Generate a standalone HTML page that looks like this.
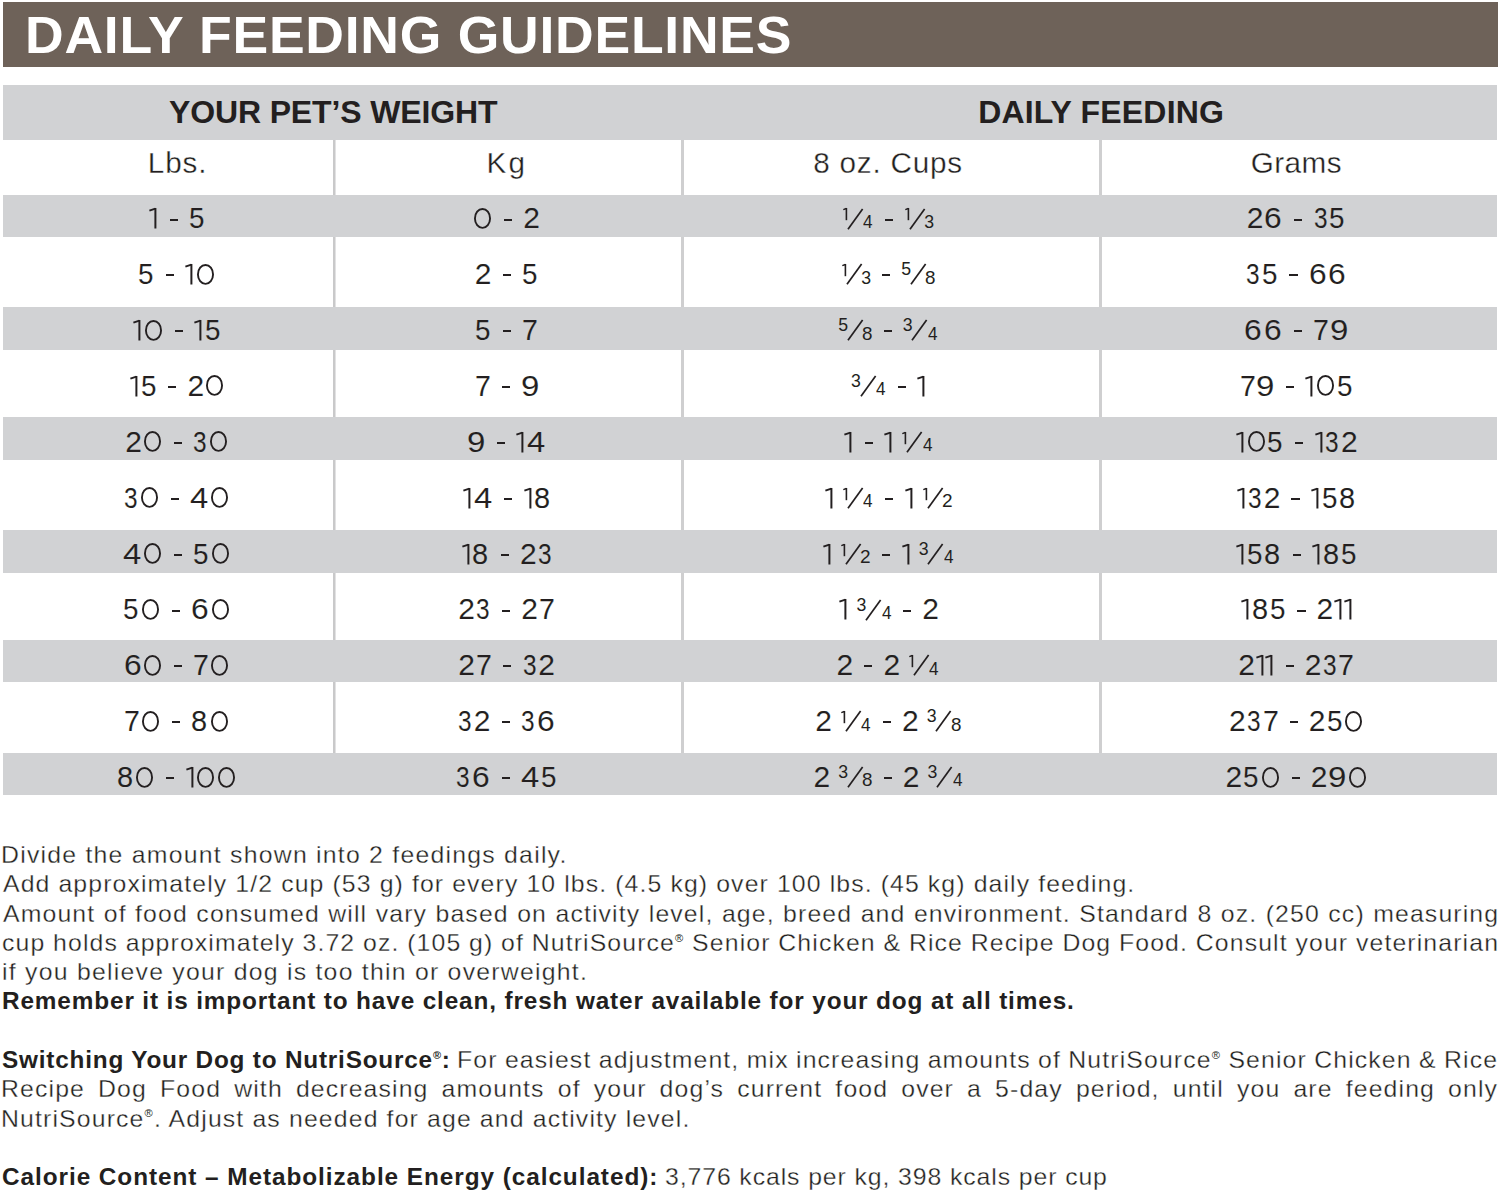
<!DOCTYPE html>
<html><head><meta charset="utf-8"><style>
html,body{margin:0;padding:0;background:#fff}
body{width:1500px;height:1191px;position:relative;overflow:hidden;font-family:"Liberation Sans", sans-serif;color:#231f20}
.r{position:absolute}
.t{position:absolute;white-space:pre;transform-origin:0 0}
.sv{position:absolute;overflow:visible}
.reg{font-size:0.45em;position:relative;top:-0.9em;line-height:0;-webkit-text-stroke:0}
</style></head><body>
<div class='r' style='left:3px;top:2px;width:1495.00px;height:65.00px;background:#6e6259'></div><div class='r' style='left:3px;top:85px;width:1494.00px;height:54.50px;background:#d1d2d4'></div><div class='r' style='left:333px;top:139.5px;width:2.00px;height:655.50px;background:#c9c9ca'></div><div class='r' style='left:335px;top:139.5px;width:1.00px;height:655.50px;background:#e2e2e3'></div><div class='r' style='left:681px;top:139.5px;width:3.00px;height:655.50px;background:#cfcfd0'></div><div class='r' style='left:1099px;top:139.5px;width:3.00px;height:655.50px;background:#cfcfd0'></div><div class='r' style='left:3px;top:195px;width:1494.00px;height:42.00px;background:#d1d2d4'></div><div class='r' style='left:3px;top:307px;width:1494.00px;height:43.00px;background:#d1d2d4'></div><div class='r' style='left:3px;top:417px;width:1494.00px;height:43.00px;background:#d1d2d4'></div><div class='r' style='left:3px;top:530px;width:1494.00px;height:43.00px;background:#d1d2d4'></div><div class='r' style='left:3px;top:640px;width:1494.00px;height:42.00px;background:#d1d2d4'></div><div class='r' style='left:3px;top:753px;width:1494.00px;height:42.00px;background:#d1d2d4'></div>
<div class='t' style='top:8.88px;font-size:52.5px;line-height:52.5px;font-weight:700;color:#ffffff;transform:scaleX(1.02);left:24.94px;letter-spacing:0.712px'>DAILY FEEDING GUIDELINES</div><div class='t' style='top:95.60px;font-size:32px;line-height:32px;font-weight:700;color:#231f20;transform:scaleX(1.0);left:169.00px;letter-spacing:-0.137px'>YOUR PET’S WEIGHT</div><div class='t' style='top:95.50px;font-size:32px;line-height:32px;font-weight:700;color:#231f20;transform:scaleX(1.0);left:978.20px;letter-spacing:0.175px'>DAILY FEEDING</div><div class='t' style='top:147.75px;font-size:29.7px;line-height:29.7px;font-weight:400;color:#231f20;transform:scaleX(1.0);-webkit-text-stroke:0.35px #fff;left:147.80px;letter-spacing:0.867px'>Lbs.</div><div class='t' style='top:147.75px;font-size:29.7px;line-height:29.7px;font-weight:400;color:#231f20;transform:scaleX(1.0);-webkit-text-stroke:0.35px #fff;left:486.60px;letter-spacing:2.000px'>Kg</div><div class='t' style='top:147.75px;font-size:29.7px;line-height:29.7px;font-weight:400;color:#231f20;transform:scaleX(1.0);-webkit-text-stroke:0.35px #fff;left:813.20px;letter-spacing:0.789px'>8 oz. Cups</div><div class='t' style='top:147.75px;font-size:29.7px;line-height:29.7px;font-weight:400;color:#231f20;transform:scaleX(1.0);-webkit-text-stroke:0.35px #fff;left:1250.70px;letter-spacing:0.450px'>Grams</div><div class='t' style='top:844.08px;font-size:23.2px;line-height:23.2px;font-weight:400;color:#231f20;transform:scaleX(1.07);-webkit-text-stroke:0.3px #fff;left:0.86px;letter-spacing:1.152px'>Divide the amount shown into 2 feedings daily.</div><div class='t' style='top:873.36px;font-size:23.2px;line-height:23.2px;font-weight:400;color:#231f20;transform:scaleX(1.07);-webkit-text-stroke:0.3px #fff;left:3.00px;letter-spacing:1.035px'>Add approximately 1/2 cup (53 g) for every 10 lbs. (4.5 kg) over 100 lbs. (45 kg) daily feeding.</div><div class='t' style='top:902.64px;font-size:23.2px;line-height:23.2px;font-weight:400;color:#231f20;transform:scaleX(1.07);-webkit-text-stroke:0.3px #fff;left:3.00px;letter-spacing:1.050px;word-spacing:0.415px'>Amount of food consumed will vary based on activity level, age, breed and environment. Standard 8 oz. (250 cc) measuring</div><div class='t' style='top:931.92px;font-size:23.2px;line-height:23.2px;font-weight:400;color:#231f20;transform:scaleX(1.07);-webkit-text-stroke:0.3px #fff;left:1.93px;letter-spacing:1.050px;word-spacing:-0.286px'>cup holds approximately 3.72 oz. (105 g) of NutriSource<span class="reg">®</span> Senior Chicken &amp; Rice Recipe Dog Food. Consult your veterinarian</div><div class='t' style='top:961.20px;font-size:23.2px;line-height:23.2px;font-weight:400;color:#231f20;transform:scaleX(1.07);-webkit-text-stroke:0.3px #fff;left:1.93px;letter-spacing:1.160px'>if you believe your dog is too thin or overweight.</div><div class='t' style='top:990.48px;font-size:23.2px;line-height:23.2px;font-weight:700;color:#231f20;transform:scaleX(1.05);left:1.95px;letter-spacing:0.817px'>Remember it is important to have clean, fresh water available for your dog at all times.</div><div class='t' style='top:1049.04px;font-size:23.2px;line-height:23.2px;font-weight:700;color:#231f20;transform:scaleX(1.05);left:1.95px;letter-spacing:0.751px'>Switching Your Dog to NutriSource<span class="reg">®</span>:</div><div class='t' style='top:1049.04px;font-size:23.2px;line-height:23.2px;font-weight:400;color:#231f20;transform:scaleX(1.07);-webkit-text-stroke:0.3px #fff;left:457.36px;letter-spacing:1.050px;word-spacing:-0.630px'>For easiest adjustment, mix increasing amounts of NutriSource<span class="reg">®</span> Senior Chicken &amp; Rice</div><div class='t' style='top:1078.32px;font-size:23.2px;line-height:23.2px;font-weight:400;color:#231f20;transform:scaleX(1.07);-webkit-text-stroke:0.3px #fff;left:0.86px;letter-spacing:1.050px;word-spacing:4.747px'>Recipe Dog Food with decreasing amounts of your dog’s current food over a 5-day period, until you are feeding only</div><div class='t' style='top:1107.60px;font-size:23.2px;line-height:23.2px;font-weight:400;color:#231f20;transform:scaleX(1.07);-webkit-text-stroke:0.3px #fff;left:0.86px;letter-spacing:1.065px'>NutriSource<span class="reg">®</span>. Adjust as needed for age and activity level.</div><div class='t' style='top:1166.16px;font-size:23.2px;line-height:23.2px;font-weight:700;color:#231f20;transform:scaleX(1.05);left:1.95px;letter-spacing:0.895px'>Calorie Content – Metabolizable Energy (calculated):</div><div class='t' style='top:1166.16px;font-size:23.2px;line-height:23.2px;font-weight:400;color:#231f20;transform:scaleX(1.07);-webkit-text-stroke:0.3px #fff;left:664.83px;letter-spacing:0.839px'>3,776 kcals per kg, 398 kcals per cup</div><svg class='sv' style='left:148.35px;top:207.40px' width='9.4' height='22.5'><path d='M7.40 1V21.50' stroke='#231f20' stroke-width='2.0' fill='none'/><path d='M7.40 1.60L1.38 3.67' stroke='#231f20' stroke-width='1.9' fill='none'/></svg><div class='r' style='left:169.55px;top:218.50px;width:8.2px;height:2px;background:#231f20'></div><div class='t' style='top:203.40px;font-size:30px;line-height:30px;left:188.82px;transform:scaleX(0.9267);-webkit-text-stroke:0.1px #d1d2d4'>5</div><svg class='sv' style='left:473.30px;top:206.90px' width='19.0' height='22.8'><ellipse cx='9.50' cy='11.40' rx='7.55' ry='9.45' stroke='#231f20' stroke-width='1.9' fill='none'/></svg><div class='r' style='left:504.10px;top:218.50px;width:8.2px;height:2px;background:#231f20'></div><div class='t' style='top:203.40px;font-size:30px;line-height:30px;left:523.30px;transform:scaleX(1.0000);-webkit-text-stroke:0.1px #d1d2d4'>2</div><svg class='sv' style='left:842.25px;top:207.40px' width='6.2' height='14.2'><path d='M4.40 1V13.20' stroke='#231f20' stroke-width='1.6' fill='none'/><path d='M4.40 1.48L1.30 2.59' stroke='#231f20' stroke-width='1.5' fill='none'/></svg><svg class='sv' style='left:846.95px;top:207.60px' width='16.6' height='22.3'><path d='M1 21.3L15.6 1' stroke='#231f20' stroke-width='1.7' fill='none'/></svg><div class='t' style='top:213.86px;font-size:17.7px;line-height:17.7px;left:863.45px;transform:scaleX(0.9700)'>4</div><div class='r' style='left:884.95px;top:218.50px;width:8.2px;height:2px;background:#231f20'></div><svg class='sv' style='left:904.15px;top:207.40px' width='6.2' height='14.2'><path d='M4.40 1V13.20' stroke='#231f20' stroke-width='1.6' fill='none'/><path d='M4.40 1.48L1.30 2.59' stroke='#231f20' stroke-width='1.5' fill='none'/></svg><svg class='sv' style='left:908.85px;top:207.60px' width='16.6' height='22.3'><path d='M1 21.3L15.6 1' stroke='#231f20' stroke-width='1.7' fill='none'/></svg><div class='t' style='top:213.86px;font-size:17.7px;line-height:17.7px;left:924.35px;transform:scaleX(1.0000)'>3</div><div class='t' style='top:203.40px;font-size:30px;line-height:30px;left:1246.80px;transform:scaleX(1.0000);-webkit-text-stroke:0.1px #d1d2d4'>2</div><div class='t' style='top:203.40px;font-size:30px;line-height:30px;left:1264.44px;transform:scaleX(1.0600);-webkit-text-stroke:0.1px #d1d2d4'>6</div><div class='r' style='left:1294.20px;top:218.50px;width:8.2px;height:2px;background:#231f20'></div><div class='t' style='top:203.40px;font-size:30px;line-height:30px;left:1313.59px;transform:scaleX(0.8133);-webkit-text-stroke:0.1px #d1d2d4'>3</div><div class='t' style='top:203.40px;font-size:30px;line-height:30px;left:1329.37px;transform:scaleX(0.9267);-webkit-text-stroke:0.1px #d1d2d4'>5</div><div class='t' style='top:259.26px;font-size:30px;line-height:30px;left:138.07px;transform:scaleX(0.9267);-webkit-text-stroke:0.1px #ffffff'>5</div><div class='r' style='left:165.70px;top:274.36px;width:8.2px;height:2px;background:#231f20'></div><svg class='sv' style='left:184.40px;top:263.26px' width='9.4' height='22.5'><path d='M7.40 1V21.50' stroke='#231f20' stroke-width='2.0' fill='none'/><path d='M7.40 1.60L1.38 3.67' stroke='#231f20' stroke-width='1.9' fill='none'/></svg><svg class='sv' style='left:196.00px;top:262.76px' width='19.0' height='22.8'><ellipse cx='9.50' cy='11.40' rx='7.55' ry='9.45' stroke='#231f20' stroke-width='1.9' fill='none'/></svg><div class='t' style='top:259.26px;font-size:30px;line-height:30px;left:474.85px;transform:scaleX(1.0000);-webkit-text-stroke:0.1px #ffffff'>2</div><div class='r' style='left:502.65px;top:274.36px;width:8.2px;height:2px;background:#231f20'></div><div class='t' style='top:259.26px;font-size:30px;line-height:30px;left:521.92px;transform:scaleX(0.9267);-webkit-text-stroke:0.1px #ffffff'>5</div><svg class='sv' style='left:840.95px;top:263.26px' width='6.2' height='14.2'><path d='M4.40 1V13.20' stroke='#231f20' stroke-width='1.6' fill='none'/><path d='M4.40 1.48L1.30 2.59' stroke='#231f20' stroke-width='1.5' fill='none'/></svg><svg class='sv' style='left:845.65px;top:263.46px' width='16.6' height='22.3'><path d='M1 21.3L15.6 1' stroke='#231f20' stroke-width='1.7' fill='none'/></svg><div class='t' style='top:269.71px;font-size:17.7px;line-height:17.7px;left:861.15px;transform:scaleX(1.0000)'>3</div><div class='r' style='left:881.95px;top:274.36px;width:8.2px;height:2px;background:#231f20'></div><div class='t' style='top:261.41px;font-size:17.7px;line-height:17.7px;left:901.15px;transform:scaleX(1.0000)'>5</div><svg class='sv' style='left:909.65px;top:263.46px' width='16.6' height='22.3'><path d='M1 21.3L15.6 1' stroke='#231f20' stroke-width='1.7' fill='none'/></svg><div class='t' style='top:269.71px;font-size:17.7px;line-height:17.7px;left:925.09px;transform:scaleX(1.0625)'>8</div><div class='t' style='top:259.26px;font-size:30px;line-height:30px;left:1246.04px;transform:scaleX(0.8133);-webkit-text-stroke:0.1px #ffffff'>3</div><div class='t' style='top:259.26px;font-size:30px;line-height:30px;left:1261.82px;transform:scaleX(0.9267);-webkit-text-stroke:0.1px #ffffff'>5</div><div class='r' style='left:1289.45px;top:274.36px;width:8.2px;height:2px;background:#231f20'></div><div class='t' style='top:259.26px;font-size:30px;line-height:30px;left:1308.59px;transform:scaleX(1.0600);-webkit-text-stroke:0.1px #ffffff'>6</div><div class='t' style='top:259.26px;font-size:30px;line-height:30px;left:1328.19px;transform:scaleX(1.0600);-webkit-text-stroke:0.1px #ffffff'>6</div><svg class='sv' style='left:132.20px;top:319.12px' width='9.4' height='22.5'><path d='M7.40 1V21.50' stroke='#231f20' stroke-width='2.0' fill='none'/><path d='M7.40 1.60L1.38 3.67' stroke='#231f20' stroke-width='1.9' fill='none'/></svg><svg class='sv' style='left:143.80px;top:318.62px' width='19.0' height='22.8'><ellipse cx='9.50' cy='11.40' rx='7.55' ry='9.45' stroke='#231f20' stroke-width='1.9' fill='none'/></svg><div class='r' style='left:174.60px;top:330.22px;width:8.2px;height:2px;background:#231f20'></div><svg class='sv' style='left:193.30px;top:319.12px' width='9.4' height='22.5'><path d='M7.40 1V21.50' stroke='#231f20' stroke-width='2.0' fill='none'/><path d='M7.40 1.60L1.38 3.67' stroke='#231f20' stroke-width='1.9' fill='none'/></svg><div class='t' style='top:315.12px;font-size:30px;line-height:30px;left:204.97px;transform:scaleX(0.9267);-webkit-text-stroke:0.1px #d1d2d4'>5</div><div class='t' style='top:315.12px;font-size:30px;line-height:30px;left:475.27px;transform:scaleX(0.9267);-webkit-text-stroke:0.1px #d1d2d4'>5</div><div class='r' style='left:502.90px;top:330.22px;width:8.2px;height:2px;background:#231f20'></div><div class='t' style='top:315.12px;font-size:30px;line-height:30px;left:522.15px;transform:scaleX(0.9500);-webkit-text-stroke:0.1px #d1d2d4'>7</div><div class='t' style='top:317.27px;font-size:17.7px;line-height:17.7px;left:838.20px;transform:scaleX(1.0000)'>5</div><svg class='sv' style='left:846.70px;top:319.32px' width='16.6' height='22.3'><path d='M1 21.3L15.6 1' stroke='#231f20' stroke-width='1.7' fill='none'/></svg><div class='t' style='top:325.57px;font-size:17.7px;line-height:17.7px;left:862.14px;transform:scaleX(1.0625)'>8</div><div class='r' style='left:883.50px;top:330.22px;width:8.2px;height:2px;background:#231f20'></div><div class='t' style='top:317.27px;font-size:17.7px;line-height:17.7px;left:902.70px;transform:scaleX(1.0000)'>3</div><svg class='sv' style='left:911.20px;top:319.32px' width='16.6' height='22.3'><path d='M1 21.3L15.6 1' stroke='#231f20' stroke-width='1.7' fill='none'/></svg><div class='t' style='top:325.57px;font-size:17.7px;line-height:17.7px;left:927.70px;transform:scaleX(0.9700)'>4</div><div class='t' style='top:315.12px;font-size:30px;line-height:30px;left:1244.49px;transform:scaleX(1.0600);-webkit-text-stroke:0.1px #d1d2d4'>6</div><div class='t' style='top:315.12px;font-size:30px;line-height:30px;left:1264.09px;transform:scaleX(1.0600);-webkit-text-stroke:0.1px #d1d2d4'>6</div><div class='r' style='left:1293.85px;top:330.22px;width:8.2px;height:2px;background:#231f20'></div><div class='t' style='top:315.12px;font-size:30px;line-height:30px;left:1313.10px;transform:scaleX(0.9500);-webkit-text-stroke:0.1px #d1d2d4'>7</div><div class='t' style='top:315.12px;font-size:30px;line-height:30px;left:1329.95px;transform:scaleX(1.1000);-webkit-text-stroke:0.1px #d1d2d4'>9</div><svg class='sv' style='left:128.90px;top:374.98px' width='9.4' height='22.5'><path d='M7.40 1V21.50' stroke='#231f20' stroke-width='2.0' fill='none'/><path d='M7.40 1.60L1.38 3.67' stroke='#231f20' stroke-width='1.9' fill='none'/></svg><div class='t' style='top:370.98px;font-size:30px;line-height:30px;left:140.57px;transform:scaleX(0.9267);-webkit-text-stroke:0.1px #ffffff'>5</div><div class='r' style='left:168.20px;top:386.08px;width:8.2px;height:2px;background:#231f20'></div><div class='t' style='top:370.98px;font-size:30px;line-height:30px;left:187.40px;transform:scaleX(1.0000);-webkit-text-stroke:0.1px #ffffff'>2</div><svg class='sv' style='left:205.10px;top:374.48px' width='19.0' height='22.8'><ellipse cx='9.50' cy='11.40' rx='7.55' ry='9.45' stroke='#231f20' stroke-width='1.9' fill='none'/></svg><div class='t' style='top:370.98px;font-size:30px;line-height:30px;left:474.50px;transform:scaleX(0.9500);-webkit-text-stroke:0.1px #ffffff'>7</div><div class='r' style='left:501.55px;top:386.08px;width:8.2px;height:2px;background:#231f20'></div><div class='t' style='top:370.98px;font-size:30px;line-height:30px;left:520.65px;transform:scaleX(1.1000);-webkit-text-stroke:0.1px #ffffff'>9</div><div class='t' style='top:373.13px;font-size:17.7px;line-height:17.7px;left:851.00px;transform:scaleX(1.0000)'>3</div><svg class='sv' style='left:859.50px;top:375.18px' width='16.6' height='22.3'><path d='M1 21.3L15.6 1' stroke='#231f20' stroke-width='1.7' fill='none'/></svg><div class='t' style='top:381.44px;font-size:17.7px;line-height:17.7px;left:876.00px;transform:scaleX(0.9700)'>4</div><div class='r' style='left:897.50px;top:386.08px;width:8.2px;height:2px;background:#231f20'></div><svg class='sv' style='left:916.20px;top:374.98px' width='9.4' height='22.5'><path d='M7.40 1V21.50' stroke='#231f20' stroke-width='2.0' fill='none'/><path d='M7.40 1.60L1.38 3.67' stroke='#231f20' stroke-width='1.9' fill='none'/></svg><div class='t' style='top:370.98px;font-size:30px;line-height:30px;left:1239.50px;transform:scaleX(0.9500);-webkit-text-stroke:0.1px #ffffff'>7</div><div class='t' style='top:370.98px;font-size:30px;line-height:30px;left:1256.35px;transform:scaleX(1.1000);-webkit-text-stroke:0.1px #ffffff'>9</div><div class='r' style='left:1285.65px;top:386.08px;width:8.2px;height:2px;background:#231f20'></div><svg class='sv' style='left:1304.35px;top:374.98px' width='9.4' height='22.5'><path d='M7.40 1V21.50' stroke='#231f20' stroke-width='2.0' fill='none'/><path d='M7.40 1.60L1.38 3.67' stroke='#231f20' stroke-width='1.9' fill='none'/></svg><svg class='sv' style='left:1315.95px;top:374.48px' width='19.0' height='22.8'><ellipse cx='9.50' cy='11.40' rx='7.55' ry='9.45' stroke='#231f20' stroke-width='1.9' fill='none'/></svg><div class='t' style='top:370.98px;font-size:30px;line-height:30px;left:1336.72px;transform:scaleX(0.9267);-webkit-text-stroke:0.1px #ffffff'>5</div><div class='t' style='top:426.84px;font-size:30px;line-height:30px;left:125.20px;transform:scaleX(1.0000);-webkit-text-stroke:0.1px #d1d2d4'>2</div><svg class='sv' style='left:142.90px;top:430.34px' width='19.0' height='22.8'><ellipse cx='9.50' cy='11.40' rx='7.55' ry='9.45' stroke='#231f20' stroke-width='1.9' fill='none'/></svg><div class='r' style='left:173.70px;top:441.94px;width:8.2px;height:2px;background:#231f20'></div><div class='t' style='top:426.84px;font-size:30px;line-height:30px;left:193.09px;transform:scaleX(0.8133);-webkit-text-stroke:0.1px #d1d2d4'>3</div><svg class='sv' style='left:208.80px;top:430.34px' width='19.0' height='22.8'><ellipse cx='9.50' cy='11.40' rx='7.55' ry='9.45' stroke='#231f20' stroke-width='1.9' fill='none'/></svg><div class='t' style='top:426.84px;font-size:30px;line-height:30px;left:467.25px;transform:scaleX(1.1000);-webkit-text-stroke:0.1px #d1d2d4'>9</div><div class='r' style='left:496.55px;top:441.94px;width:8.2px;height:2px;background:#231f20'></div><svg class='sv' style='left:515.25px;top:430.84px' width='9.4' height='22.5'><path d='M7.40 1V21.50' stroke='#231f20' stroke-width='2.0' fill='none'/><path d='M7.40 1.60L1.38 3.67' stroke='#231f20' stroke-width='1.9' fill='none'/></svg><div class='t' style='top:426.84px;font-size:30px;line-height:30px;left:526.76px;transform:scaleX(1.0933);-webkit-text-stroke:0.1px #d1d2d4'>4</div><svg class='sv' style='left:843.30px;top:430.84px' width='9.4' height='22.5'><path d='M7.40 1V21.50' stroke='#231f20' stroke-width='2.0' fill='none'/><path d='M7.40 1.60L1.38 3.67' stroke='#231f20' stroke-width='1.9' fill='none'/></svg><div class='r' style='left:864.50px;top:441.94px;width:8.2px;height:2px;background:#231f20'></div><svg class='sv' style='left:883.20px;top:430.84px' width='9.4' height='22.5'><path d='M7.40 1V21.50' stroke='#231f20' stroke-width='2.0' fill='none'/><path d='M7.40 1.60L1.38 3.67' stroke='#231f20' stroke-width='1.9' fill='none'/></svg><svg class='sv' style='left:901.40px;top:430.84px' width='6.2' height='14.2'><path d='M4.40 1V13.20' stroke='#231f20' stroke-width='1.6' fill='none'/><path d='M4.40 1.48L1.30 2.59' stroke='#231f20' stroke-width='1.5' fill='none'/></svg><svg class='sv' style='left:906.10px;top:431.04px' width='16.6' height='22.3'><path d='M1 21.3L15.6 1' stroke='#231f20' stroke-width='1.7' fill='none'/></svg><div class='t' style='top:437.30px;font-size:17.7px;line-height:17.7px;left:922.60px;transform:scaleX(0.9700)'>4</div><svg class='sv' style='left:1234.90px;top:430.84px' width='9.4' height='22.5'><path d='M7.40 1V21.50' stroke='#231f20' stroke-width='2.0' fill='none'/><path d='M7.40 1.60L1.38 3.67' stroke='#231f20' stroke-width='1.9' fill='none'/></svg><svg class='sv' style='left:1246.50px;top:430.34px' width='19.0' height='22.8'><ellipse cx='9.50' cy='11.40' rx='7.55' ry='9.45' stroke='#231f20' stroke-width='1.9' fill='none'/></svg><div class='t' style='top:426.84px;font-size:30px;line-height:30px;left:1267.27px;transform:scaleX(0.9267);-webkit-text-stroke:0.1px #d1d2d4'>5</div><div class='r' style='left:1294.90px;top:441.94px;width:8.2px;height:2px;background:#231f20'></div><svg class='sv' style='left:1313.60px;top:430.84px' width='9.4' height='22.5'><path d='M7.40 1V21.50' stroke='#231f20' stroke-width='2.0' fill='none'/><path d='M7.40 1.60L1.38 3.67' stroke='#231f20' stroke-width='1.9' fill='none'/></svg><div class='t' style='top:426.84px;font-size:30px;line-height:30px;left:1325.39px;transform:scaleX(0.8133);-webkit-text-stroke:0.1px #d1d2d4'>3</div><div class='t' style='top:426.84px;font-size:30px;line-height:30px;left:1341.10px;transform:scaleX(1.0000);-webkit-text-stroke:0.1px #d1d2d4'>2</div><div class='t' style='top:482.70px;font-size:30px;line-height:30px;left:124.19px;transform:scaleX(0.8133);-webkit-text-stroke:0.1px #ffffff'>3</div><svg class='sv' style='left:139.90px;top:486.20px' width='19.0' height='22.8'><ellipse cx='9.50' cy='11.40' rx='7.55' ry='9.45' stroke='#231f20' stroke-width='1.9' fill='none'/></svg><div class='r' style='left:170.70px;top:497.80px;width:8.2px;height:2px;background:#231f20'></div><div class='t' style='top:482.70px;font-size:30px;line-height:30px;left:189.81px;transform:scaleX(1.0933);-webkit-text-stroke:0.1px #ffffff'>4</div><svg class='sv' style='left:210.00px;top:486.20px' width='19.0' height='22.8'><ellipse cx='9.50' cy='11.40' rx='7.55' ry='9.45' stroke='#231f20' stroke-width='1.9' fill='none'/></svg><svg class='sv' style='left:462.00px;top:486.70px' width='9.4' height='22.5'><path d='M7.40 1V21.50' stroke='#231f20' stroke-width='2.0' fill='none'/><path d='M7.40 1.60L1.38 3.67' stroke='#231f20' stroke-width='1.9' fill='none'/></svg><div class='t' style='top:482.70px;font-size:30px;line-height:30px;left:473.51px;transform:scaleX(1.0933);-webkit-text-stroke:0.1px #ffffff'>4</div><div class='r' style='left:503.80px;top:497.80px;width:8.2px;height:2px;background:#231f20'></div><svg class='sv' style='left:522.50px;top:486.70px' width='9.4' height='22.5'><path d='M7.40 1V21.50' stroke='#231f20' stroke-width='2.0' fill='none'/><path d='M7.40 1.60L1.38 3.67' stroke='#231f20' stroke-width='1.9' fill='none'/></svg><div class='t' style='top:482.70px;font-size:30px;line-height:30px;left:534.13px;transform:scaleX(0.9667);-webkit-text-stroke:0.1px #ffffff'>8</div><svg class='sv' style='left:824.00px;top:486.70px' width='9.4' height='22.5'><path d='M7.40 1V21.50' stroke='#231f20' stroke-width='2.0' fill='none'/><path d='M7.40 1.60L1.38 3.67' stroke='#231f20' stroke-width='1.9' fill='none'/></svg><svg class='sv' style='left:842.20px;top:486.70px' width='6.2' height='14.2'><path d='M4.40 1V13.20' stroke='#231f20' stroke-width='1.6' fill='none'/><path d='M4.40 1.48L1.30 2.59' stroke='#231f20' stroke-width='1.5' fill='none'/></svg><svg class='sv' style='left:846.90px;top:486.90px' width='16.6' height='22.3'><path d='M1 21.3L15.6 1' stroke='#231f20' stroke-width='1.7' fill='none'/></svg><div class='t' style='top:493.16px;font-size:17.7px;line-height:17.7px;left:863.40px;transform:scaleX(0.9700)'>4</div><div class='r' style='left:884.90px;top:497.80px;width:8.2px;height:2px;background:#231f20'></div><svg class='sv' style='left:903.60px;top:486.70px' width='9.4' height='22.5'><path d='M7.40 1V21.50' stroke='#231f20' stroke-width='2.0' fill='none'/><path d='M7.40 1.60L1.38 3.67' stroke='#231f20' stroke-width='1.9' fill='none'/></svg><svg class='sv' style='left:921.80px;top:486.70px' width='6.2' height='14.2'><path d='M4.40 1V13.20' stroke='#231f20' stroke-width='1.6' fill='none'/><path d='M4.40 1.48L1.30 2.59' stroke='#231f20' stroke-width='1.5' fill='none'/></svg><svg class='sv' style='left:926.50px;top:486.90px' width='16.6' height='22.3'><path d='M1 21.3L15.6 1' stroke='#231f20' stroke-width='1.7' fill='none'/></svg><div class='t' style='top:493.16px;font-size:17.7px;line-height:17.7px;left:941.92px;transform:scaleX(1.0750)'>2</div><svg class='sv' style='left:1236.15px;top:486.70px' width='9.4' height='22.5'><path d='M7.40 1V21.50' stroke='#231f20' stroke-width='2.0' fill='none'/><path d='M7.40 1.60L1.38 3.67' stroke='#231f20' stroke-width='1.9' fill='none'/></svg><div class='t' style='top:482.70px;font-size:30px;line-height:30px;left:1247.94px;transform:scaleX(0.8133);-webkit-text-stroke:0.1px #ffffff'>3</div><div class='t' style='top:482.70px;font-size:30px;line-height:30px;left:1263.65px;transform:scaleX(1.0000);-webkit-text-stroke:0.1px #ffffff'>2</div><div class='r' style='left:1291.45px;top:497.80px;width:8.2px;height:2px;background:#231f20'></div><svg class='sv' style='left:1310.15px;top:486.70px' width='9.4' height='22.5'><path d='M7.40 1V21.50' stroke='#231f20' stroke-width='2.0' fill='none'/><path d='M7.40 1.60L1.38 3.67' stroke='#231f20' stroke-width='1.9' fill='none'/></svg><div class='t' style='top:482.70px;font-size:30px;line-height:30px;left:1321.82px;transform:scaleX(0.9267);-webkit-text-stroke:0.1px #ffffff'>5</div><div class='t' style='top:482.70px;font-size:30px;line-height:30px;left:1339.38px;transform:scaleX(0.9667);-webkit-text-stroke:0.1px #ffffff'>8</div><div class='t' style='top:538.56px;font-size:30px;line-height:30px;left:123.06px;transform:scaleX(1.0933);-webkit-text-stroke:0.1px #d1d2d4'>4</div><svg class='sv' style='left:143.25px;top:542.06px' width='19.0' height='22.8'><ellipse cx='9.50' cy='11.40' rx='7.55' ry='9.45' stroke='#231f20' stroke-width='1.9' fill='none'/></svg><div class='r' style='left:174.05px;top:553.66px;width:8.2px;height:2px;background:#231f20'></div><div class='t' style='top:538.56px;font-size:30px;line-height:30px;left:193.32px;transform:scaleX(0.9267);-webkit-text-stroke:0.1px #d1d2d4'>5</div><svg class='sv' style='left:210.85px;top:542.06px' width='19.0' height='22.8'><ellipse cx='9.50' cy='11.40' rx='7.55' ry='9.45' stroke='#231f20' stroke-width='1.9' fill='none'/></svg><svg class='sv' style='left:460.80px;top:542.56px' width='9.4' height='22.5'><path d='M7.40 1V21.50' stroke='#231f20' stroke-width='2.0' fill='none'/><path d='M7.40 1.60L1.38 3.67' stroke='#231f20' stroke-width='1.9' fill='none'/></svg><div class='t' style='top:538.56px;font-size:30px;line-height:30px;left:472.43px;transform:scaleX(0.9667);-webkit-text-stroke:0.1px #d1d2d4'>8</div><div class='r' style='left:500.70px;top:553.66px;width:8.2px;height:2px;background:#231f20'></div><div class='t' style='top:538.56px;font-size:30px;line-height:30px;left:519.90px;transform:scaleX(1.0000);-webkit-text-stroke:0.1px #d1d2d4'>2</div><div class='t' style='top:538.56px;font-size:30px;line-height:30px;left:537.79px;transform:scaleX(0.8133);-webkit-text-stroke:0.1px #d1d2d4'>3</div><svg class='sv' style='left:822.10px;top:542.56px' width='9.4' height='22.5'><path d='M7.40 1V21.50' stroke='#231f20' stroke-width='2.0' fill='none'/><path d='M7.40 1.60L1.38 3.67' stroke='#231f20' stroke-width='1.9' fill='none'/></svg><svg class='sv' style='left:840.30px;top:542.56px' width='6.2' height='14.2'><path d='M4.40 1V13.20' stroke='#231f20' stroke-width='1.6' fill='none'/><path d='M4.40 1.48L1.30 2.59' stroke='#231f20' stroke-width='1.5' fill='none'/></svg><svg class='sv' style='left:845.00px;top:542.76px' width='16.6' height='22.3'><path d='M1 21.3L15.6 1' stroke='#231f20' stroke-width='1.7' fill='none'/></svg><div class='t' style='top:549.01px;font-size:17.7px;line-height:17.7px;left:860.42px;transform:scaleX(1.0750)'>2</div><div class='r' style='left:881.90px;top:553.66px;width:8.2px;height:2px;background:#231f20'></div><svg class='sv' style='left:900.60px;top:542.56px' width='9.4' height='22.5'><path d='M7.40 1V21.50' stroke='#231f20' stroke-width='2.0' fill='none'/><path d='M7.40 1.60L1.38 3.67' stroke='#231f20' stroke-width='1.9' fill='none'/></svg><div class='t' style='top:540.72px;font-size:17.7px;line-height:17.7px;left:918.80px;transform:scaleX(1.0000)'>3</div><svg class='sv' style='left:927.30px;top:542.76px' width='16.6' height='22.3'><path d='M1 21.3L15.6 1' stroke='#231f20' stroke-width='1.7' fill='none'/></svg><div class='t' style='top:549.01px;font-size:17.7px;line-height:17.7px;left:943.80px;transform:scaleX(0.9700)'>4</div><svg class='sv' style='left:1235.05px;top:542.56px' width='9.4' height='22.5'><path d='M7.40 1V21.50' stroke='#231f20' stroke-width='2.0' fill='none'/><path d='M7.40 1.60L1.38 3.67' stroke='#231f20' stroke-width='1.9' fill='none'/></svg><div class='t' style='top:538.56px;font-size:30px;line-height:30px;left:1246.72px;transform:scaleX(0.9267);-webkit-text-stroke:0.1px #d1d2d4'>5</div><div class='t' style='top:538.56px;font-size:30px;line-height:30px;left:1264.28px;transform:scaleX(0.9667);-webkit-text-stroke:0.1px #d1d2d4'>8</div><div class='r' style='left:1292.55px;top:553.66px;width:8.2px;height:2px;background:#231f20'></div><svg class='sv' style='left:1311.25px;top:542.56px' width='9.4' height='22.5'><path d='M7.40 1V21.50' stroke='#231f20' stroke-width='2.0' fill='none'/><path d='M7.40 1.60L1.38 3.67' stroke='#231f20' stroke-width='1.9' fill='none'/></svg><div class='t' style='top:538.56px;font-size:30px;line-height:30px;left:1322.88px;transform:scaleX(0.9667);-webkit-text-stroke:0.1px #d1d2d4'>8</div><div class='t' style='top:538.56px;font-size:30px;line-height:30px;left:1341.12px;transform:scaleX(0.9267);-webkit-text-stroke:0.1px #d1d2d4'>5</div><div class='t' style='top:594.42px;font-size:30px;line-height:30px;left:123.47px;transform:scaleX(0.9267);-webkit-text-stroke:0.1px #ffffff'>5</div><svg class='sv' style='left:141.00px;top:597.92px' width='19.0' height='22.8'><ellipse cx='9.50' cy='11.40' rx='7.55' ry='9.45' stroke='#231f20' stroke-width='1.9' fill='none'/></svg><div class='r' style='left:171.80px;top:609.52px;width:8.2px;height:2px;background:#231f20'></div><div class='t' style='top:594.42px;font-size:30px;line-height:30px;left:190.94px;transform:scaleX(1.0600);-webkit-text-stroke:0.1px #ffffff'>6</div><svg class='sv' style='left:210.60px;top:597.92px' width='19.0' height='22.8'><ellipse cx='9.50' cy='11.40' rx='7.55' ry='9.45' stroke='#231f20' stroke-width='1.9' fill='none'/></svg><div class='t' style='top:594.42px;font-size:30px;line-height:30px;left:458.35px;transform:scaleX(1.0000);-webkit-text-stroke:0.1px #ffffff'>2</div><div class='t' style='top:594.42px;font-size:30px;line-height:30px;left:476.24px;transform:scaleX(0.8133);-webkit-text-stroke:0.1px #ffffff'>3</div><div class='r' style='left:502.05px;top:609.52px;width:8.2px;height:2px;background:#231f20'></div><div class='t' style='top:594.42px;font-size:30px;line-height:30px;left:521.25px;transform:scaleX(1.0000);-webkit-text-stroke:0.1px #ffffff'>2</div><div class='t' style='top:594.42px;font-size:30px;line-height:30px;left:539.00px;transform:scaleX(0.9500);-webkit-text-stroke:0.1px #ffffff'>7</div><svg class='sv' style='left:838.35px;top:598.42px' width='9.4' height='22.5'><path d='M7.40 1V21.50' stroke='#231f20' stroke-width='2.0' fill='none'/><path d='M7.40 1.60L1.38 3.67' stroke='#231f20' stroke-width='1.9' fill='none'/></svg><div class='t' style='top:596.58px;font-size:17.7px;line-height:17.7px;left:856.55px;transform:scaleX(1.0000)'>3</div><svg class='sv' style='left:865.05px;top:598.62px' width='16.6' height='22.3'><path d='M1 21.3L15.6 1' stroke='#231f20' stroke-width='1.7' fill='none'/></svg><div class='t' style='top:604.88px;font-size:17.7px;line-height:17.7px;left:881.55px;transform:scaleX(0.9700)'>4</div><div class='r' style='left:903.05px;top:609.52px;width:8.2px;height:2px;background:#231f20'></div><div class='t' style='top:594.42px;font-size:30px;line-height:30px;left:922.25px;transform:scaleX(1.0000);-webkit-text-stroke:0.1px #ffffff'>2</div><svg class='sv' style='left:1239.90px;top:598.42px' width='9.4' height='22.5'><path d='M7.40 1V21.50' stroke='#231f20' stroke-width='2.0' fill='none'/><path d='M7.40 1.60L1.38 3.67' stroke='#231f20' stroke-width='1.9' fill='none'/></svg><div class='t' style='top:594.42px;font-size:30px;line-height:30px;left:1251.53px;transform:scaleX(0.9667);-webkit-text-stroke:0.1px #ffffff'>8</div><div class='t' style='top:594.42px;font-size:30px;line-height:30px;left:1269.77px;transform:scaleX(0.9267);-webkit-text-stroke:0.1px #ffffff'>5</div><div class='r' style='left:1297.40px;top:609.52px;width:8.2px;height:2px;background:#231f20'></div><div class='t' style='top:594.42px;font-size:30px;line-height:30px;left:1316.60px;transform:scaleX(1.0000);-webkit-text-stroke:0.1px #ffffff'>2</div><svg class='sv' style='left:1333.40px;top:598.42px' width='9.4' height='22.5'><path d='M7.40 1V21.50' stroke='#231f20' stroke-width='2.0' fill='none'/><path d='M7.40 1.60L1.38 3.67' stroke='#231f20' stroke-width='1.9' fill='none'/></svg><svg class='sv' style='left:1342.70px;top:598.42px' width='9.4' height='22.5'><path d='M7.40 1V21.50' stroke='#231f20' stroke-width='2.0' fill='none'/><path d='M7.40 1.60L1.38 3.67' stroke='#231f20' stroke-width='1.9' fill='none'/></svg><div class='t' style='top:650.28px;font-size:30px;line-height:30px;left:123.64px;transform:scaleX(1.0600);-webkit-text-stroke:0.1px #d1d2d4'>6</div><svg class='sv' style='left:143.30px;top:653.78px' width='19.0' height='22.8'><ellipse cx='9.50' cy='11.40' rx='7.55' ry='9.45' stroke='#231f20' stroke-width='1.9' fill='none'/></svg><div class='r' style='left:174.10px;top:665.38px;width:8.2px;height:2px;background:#231f20'></div><div class='t' style='top:650.28px;font-size:30px;line-height:30px;left:193.35px;transform:scaleX(0.9500);-webkit-text-stroke:0.1px #d1d2d4'>7</div><svg class='sv' style='left:210.30px;top:653.78px' width='19.0' height='22.8'><ellipse cx='9.50' cy='11.40' rx='7.55' ry='9.45' stroke='#231f20' stroke-width='1.9' fill='none'/></svg><div class='t' style='top:650.28px;font-size:30px;line-height:30px;left:458.35px;transform:scaleX(1.0000);-webkit-text-stroke:0.1px #d1d2d4'>2</div><div class='t' style='top:650.28px;font-size:30px;line-height:30px;left:476.10px;transform:scaleX(0.9500);-webkit-text-stroke:0.1px #d1d2d4'>7</div><div class='r' style='left:503.15px;top:665.38px;width:8.2px;height:2px;background:#231f20'></div><div class='t' style='top:650.28px;font-size:30px;line-height:30px;left:522.54px;transform:scaleX(0.8133);-webkit-text-stroke:0.1px #d1d2d4'>3</div><div class='t' style='top:650.28px;font-size:30px;line-height:30px;left:538.25px;transform:scaleX(1.0000);-webkit-text-stroke:0.1px #d1d2d4'>2</div><div class='t' style='top:650.28px;font-size:30px;line-height:30px;left:836.45px;transform:scaleX(1.0000);-webkit-text-stroke:0.1px #d1d2d4'>2</div><div class='r' style='left:864.25px;top:665.38px;width:8.2px;height:2px;background:#231f20'></div><div class='t' style='top:650.28px;font-size:30px;line-height:30px;left:883.45px;transform:scaleX(1.0000);-webkit-text-stroke:0.1px #d1d2d4'>2</div><svg class='sv' style='left:908.25px;top:654.28px' width='6.2' height='14.2'><path d='M4.40 1V13.20' stroke='#231f20' stroke-width='1.6' fill='none'/><path d='M4.40 1.48L1.30 2.59' stroke='#231f20' stroke-width='1.5' fill='none'/></svg><svg class='sv' style='left:912.95px;top:654.48px' width='16.6' height='22.3'><path d='M1 21.3L15.6 1' stroke='#231f20' stroke-width='1.7' fill='none'/></svg><div class='t' style='top:660.74px;font-size:17.7px;line-height:17.7px;left:929.45px;transform:scaleX(0.9700)'>4</div><div class='t' style='top:650.28px;font-size:30px;line-height:30px;left:1238.30px;transform:scaleX(1.0000);-webkit-text-stroke:0.1px #d1d2d4'>2</div><svg class='sv' style='left:1255.10px;top:654.28px' width='9.4' height='22.5'><path d='M7.40 1V21.50' stroke='#231f20' stroke-width='2.0' fill='none'/><path d='M7.40 1.60L1.38 3.67' stroke='#231f20' stroke-width='1.9' fill='none'/></svg><svg class='sv' style='left:1264.40px;top:654.28px' width='9.4' height='22.5'><path d='M7.40 1V21.50' stroke='#231f20' stroke-width='2.0' fill='none'/><path d='M7.40 1.60L1.38 3.67' stroke='#231f20' stroke-width='1.9' fill='none'/></svg><div class='r' style='left:1285.60px;top:665.38px;width:8.2px;height:2px;background:#231f20'></div><div class='t' style='top:650.28px;font-size:30px;line-height:30px;left:1304.80px;transform:scaleX(1.0000);-webkit-text-stroke:0.1px #d1d2d4'>2</div><div class='t' style='top:650.28px;font-size:30px;line-height:30px;left:1322.69px;transform:scaleX(0.8133);-webkit-text-stroke:0.1px #d1d2d4'>3</div><div class='t' style='top:650.28px;font-size:30px;line-height:30px;left:1338.45px;transform:scaleX(0.9500);-webkit-text-stroke:0.1px #d1d2d4'>7</div><div class='t' style='top:706.14px;font-size:30px;line-height:30px;left:124.45px;transform:scaleX(0.9500);-webkit-text-stroke:0.1px #ffffff'>7</div><svg class='sv' style='left:141.40px;top:709.64px' width='19.0' height='22.8'><ellipse cx='9.50' cy='11.40' rx='7.55' ry='9.45' stroke='#231f20' stroke-width='1.9' fill='none'/></svg><div class='r' style='left:172.20px;top:721.24px;width:8.2px;height:2px;background:#231f20'></div><div class='t' style='top:706.14px;font-size:30px;line-height:30px;left:191.43px;transform:scaleX(0.9667);-webkit-text-stroke:0.1px #ffffff'>8</div><svg class='sv' style='left:209.60px;top:709.64px' width='19.0' height='22.8'><ellipse cx='9.50' cy='11.40' rx='7.55' ry='9.45' stroke='#231f20' stroke-width='1.9' fill='none'/></svg><div class='t' style='top:706.14px;font-size:30px;line-height:30px;left:458.14px;transform:scaleX(0.8133);-webkit-text-stroke:0.1px #ffffff'>3</div><div class='t' style='top:706.14px;font-size:30px;line-height:30px;left:473.85px;transform:scaleX(1.0000);-webkit-text-stroke:0.1px #ffffff'>2</div><div class='r' style='left:501.65px;top:721.24px;width:8.2px;height:2px;background:#231f20'></div><div class='t' style='top:706.14px;font-size:30px;line-height:30px;left:521.04px;transform:scaleX(0.8133);-webkit-text-stroke:0.1px #ffffff'>3</div><div class='t' style='top:706.14px;font-size:30px;line-height:30px;left:536.69px;transform:scaleX(1.0600);-webkit-text-stroke:0.1px #ffffff'>6</div><div class='t' style='top:706.14px;font-size:30px;line-height:30px;left:815.30px;transform:scaleX(1.0000);-webkit-text-stroke:0.1px #ffffff'>2</div><svg class='sv' style='left:840.10px;top:710.14px' width='6.2' height='14.2'><path d='M4.40 1V13.20' stroke='#231f20' stroke-width='1.6' fill='none'/><path d='M4.40 1.48L1.30 2.59' stroke='#231f20' stroke-width='1.5' fill='none'/></svg><svg class='sv' style='left:844.80px;top:710.34px' width='16.6' height='22.3'><path d='M1 21.3L15.6 1' stroke='#231f20' stroke-width='1.7' fill='none'/></svg><div class='t' style='top:716.60px;font-size:17.7px;line-height:17.7px;left:861.30px;transform:scaleX(0.9700)'>4</div><div class='r' style='left:882.80px;top:721.24px;width:8.2px;height:2px;background:#231f20'></div><div class='t' style='top:706.14px;font-size:30px;line-height:30px;left:902.00px;transform:scaleX(1.0000);-webkit-text-stroke:0.1px #ffffff'>2</div><div class='t' style='top:708.30px;font-size:17.7px;line-height:17.7px;left:926.80px;transform:scaleX(1.0000)'>3</div><svg class='sv' style='left:935.30px;top:710.34px' width='16.6' height='22.3'><path d='M1 21.3L15.6 1' stroke='#231f20' stroke-width='1.7' fill='none'/></svg><div class='t' style='top:716.60px;font-size:17.7px;line-height:17.7px;left:950.74px;transform:scaleX(1.0625)'>8</div><div class='t' style='top:706.14px;font-size:30px;line-height:30px;left:1228.90px;transform:scaleX(1.0000);-webkit-text-stroke:0.1px #ffffff'>2</div><div class='t' style='top:706.14px;font-size:30px;line-height:30px;left:1246.79px;transform:scaleX(0.8133);-webkit-text-stroke:0.1px #ffffff'>3</div><div class='t' style='top:706.14px;font-size:30px;line-height:30px;left:1262.55px;transform:scaleX(0.9500);-webkit-text-stroke:0.1px #ffffff'>7</div><div class='r' style='left:1289.60px;top:721.24px;width:8.2px;height:2px;background:#231f20'></div><div class='t' style='top:706.14px;font-size:30px;line-height:30px;left:1308.80px;transform:scaleX(1.0000);-webkit-text-stroke:0.1px #ffffff'>2</div><div class='t' style='top:706.14px;font-size:30px;line-height:30px;left:1326.57px;transform:scaleX(0.9267);-webkit-text-stroke:0.1px #ffffff'>5</div><svg class='sv' style='left:1344.10px;top:709.64px' width='19.0' height='22.8'><ellipse cx='9.50' cy='11.40' rx='7.55' ry='9.45' stroke='#231f20' stroke-width='1.9' fill='none'/></svg><div class='t' style='top:762.00px;font-size:30px;line-height:30px;left:117.03px;transform:scaleX(0.9667);-webkit-text-stroke:0.1px #d1d2d4'>8</div><svg class='sv' style='left:135.20px;top:765.50px' width='19.0' height='22.8'><ellipse cx='9.50' cy='11.40' rx='7.55' ry='9.45' stroke='#231f20' stroke-width='1.9' fill='none'/></svg><div class='r' style='left:166.00px;top:777.10px;width:8.2px;height:2px;background:#231f20'></div><svg class='sv' style='left:184.70px;top:766.00px' width='9.4' height='22.5'><path d='M7.40 1V21.50' stroke='#231f20' stroke-width='2.0' fill='none'/><path d='M7.40 1.60L1.38 3.67' stroke='#231f20' stroke-width='1.9' fill='none'/></svg><svg class='sv' style='left:196.30px;top:765.50px' width='19.0' height='22.8'><ellipse cx='9.50' cy='11.40' rx='7.55' ry='9.45' stroke='#231f20' stroke-width='1.9' fill='none'/></svg><svg class='sv' style='left:217.00px;top:765.50px' width='19.0' height='22.8'><ellipse cx='9.50' cy='11.40' rx='7.55' ry='9.45' stroke='#231f20' stroke-width='1.9' fill='none'/></svg><div class='t' style='top:762.00px;font-size:30px;line-height:30px;left:456.09px;transform:scaleX(0.8133);-webkit-text-stroke:0.1px #d1d2d4'>3</div><div class='t' style='top:762.00px;font-size:30px;line-height:30px;left:471.74px;transform:scaleX(1.0600);-webkit-text-stroke:0.1px #d1d2d4'>6</div><div class='r' style='left:501.50px;top:777.10px;width:8.2px;height:2px;background:#231f20'></div><div class='t' style='top:762.00px;font-size:30px;line-height:30px;left:520.61px;transform:scaleX(1.0933);-webkit-text-stroke:0.1px #d1d2d4'>4</div><div class='t' style='top:762.00px;font-size:30px;line-height:30px;left:540.87px;transform:scaleX(0.9267);-webkit-text-stroke:0.1px #d1d2d4'>5</div><div class='t' style='top:762.00px;font-size:30px;line-height:30px;left:813.40px;transform:scaleX(1.0000);-webkit-text-stroke:0.1px #d1d2d4'>2</div><div class='t' style='top:764.16px;font-size:17.7px;line-height:17.7px;left:838.20px;transform:scaleX(1.0000)'>3</div><svg class='sv' style='left:846.70px;top:766.20px' width='16.6' height='22.3'><path d='M1 21.3L15.6 1' stroke='#231f20' stroke-width='1.7' fill='none'/></svg><div class='t' style='top:772.46px;font-size:17.7px;line-height:17.7px;left:862.14px;transform:scaleX(1.0625)'>8</div><div class='r' style='left:883.50px;top:777.10px;width:8.2px;height:2px;background:#231f20'></div><div class='t' style='top:762.00px;font-size:30px;line-height:30px;left:902.70px;transform:scaleX(1.0000);-webkit-text-stroke:0.1px #d1d2d4'>2</div><div class='t' style='top:764.16px;font-size:17.7px;line-height:17.7px;left:927.50px;transform:scaleX(1.0000)'>3</div><svg class='sv' style='left:936.00px;top:766.20px' width='16.6' height='22.3'><path d='M1 21.3L15.6 1' stroke='#231f20' stroke-width='1.7' fill='none'/></svg><div class='t' style='top:772.46px;font-size:17.7px;line-height:17.7px;left:952.50px;transform:scaleX(0.9700)'>4</div><div class='t' style='top:762.00px;font-size:30px;line-height:30px;left:1225.45px;transform:scaleX(1.0000);-webkit-text-stroke:0.1px #d1d2d4'>2</div><div class='t' style='top:762.00px;font-size:30px;line-height:30px;left:1243.22px;transform:scaleX(0.9267);-webkit-text-stroke:0.1px #d1d2d4'>5</div><svg class='sv' style='left:1260.75px;top:765.50px' width='19.0' height='22.8'><ellipse cx='9.50' cy='11.40' rx='7.55' ry='9.45' stroke='#231f20' stroke-width='1.9' fill='none'/></svg><div class='r' style='left:1291.55px;top:777.10px;width:8.2px;height:2px;background:#231f20'></div><div class='t' style='top:762.00px;font-size:30px;line-height:30px;left:1310.75px;transform:scaleX(1.0000);-webkit-text-stroke:0.1px #d1d2d4'>2</div><div class='t' style='top:762.00px;font-size:30px;line-height:30px;left:1328.35px;transform:scaleX(1.1000);-webkit-text-stroke:0.1px #d1d2d4'>9</div><svg class='sv' style='left:1347.55px;top:765.50px' width='19.0' height='22.8'><ellipse cx='9.50' cy='11.40' rx='7.55' ry='9.45' stroke='#231f20' stroke-width='1.9' fill='none'/></svg>
</body></html>
